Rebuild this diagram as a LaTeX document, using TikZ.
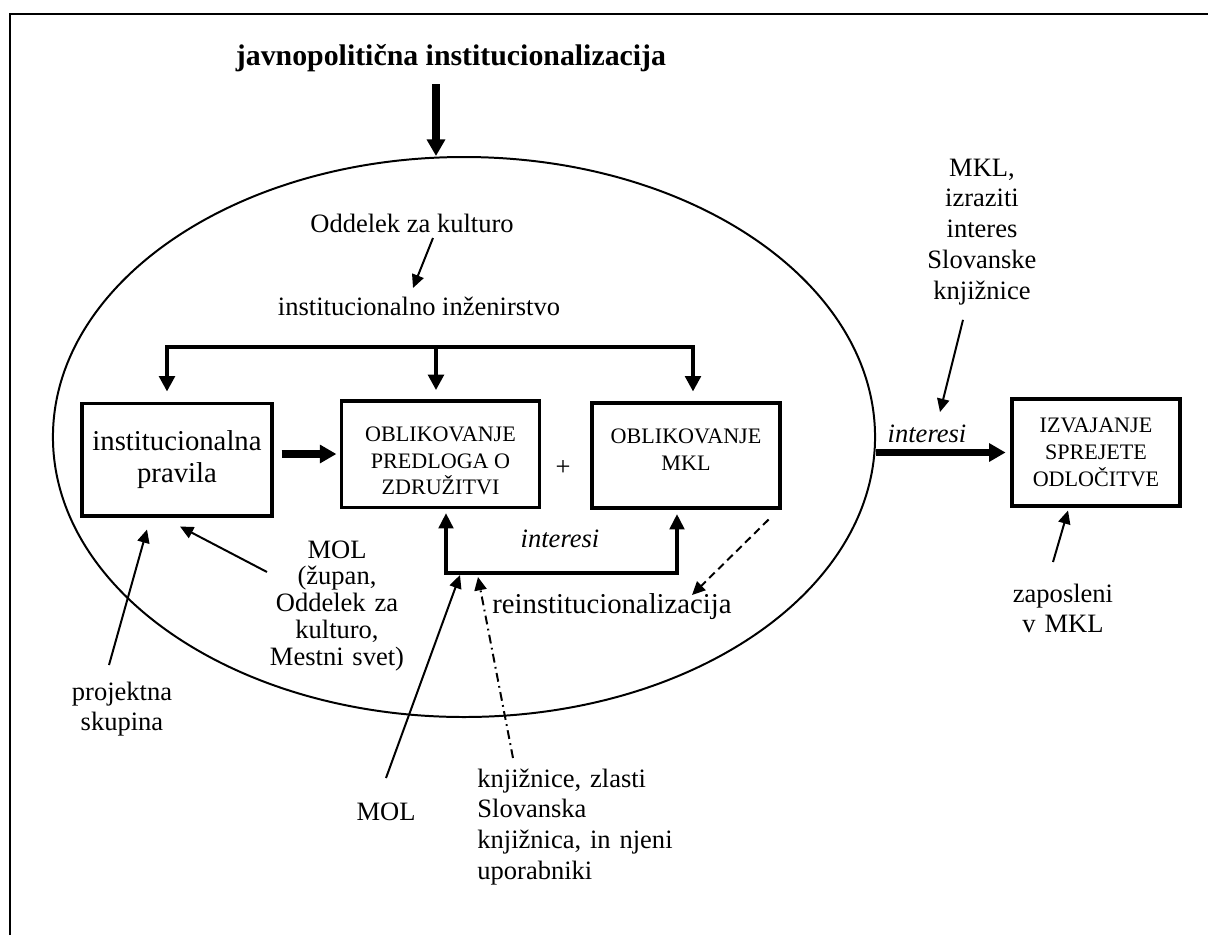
\documentclass[tikz,border=0pt]{standalone}
\usepackage{fontspec}
\setmainfont{Liberation Serif}
\usetikzlibrary{arrows.meta}
\usetikzlibrary{shapes.geometric}

\begin{document}
\begin{tikzpicture}[x=0.4525pt, y=-0.4525pt,
    txt/.style={inner sep=0pt, anchor=base, font=\fontsize{12}{14}\selectfont},
    box/.style={draw, line width=1.4pt, inner sep=0pt, align=center},
    thick line/.style={line width=2.2pt},
    mainarr/.style={line width=3.2pt, -{Triangle[length=7.5pt,width=8pt]}},
    thinarr/.style={line width=0.9pt, -{Triangle[length=6pt,width=5.5pt]}}]
    \useasboundingbox (0,0) rectangle (1208,935);
    \draw[line width=1.2pt] (10,935) -- (10,14) -- (1208,14);

    \node[txt, font=\bfseries\fontsize{13.5}{16}\selectfont] (naslov) at (451,65) {javnopolitična institucionalizacija};
    \node[draw, ellipse, line width=0.9pt, inner sep=0pt, minimum width=372pt, minimum height=253.4pt] (oval) at (464,437) {};
    \coordinate (vrh) at (436,84);
    \draw[mainarr] (vrh) -- (vrh |- oval.north);

    \node[txt] (odd) at (412,232) {Oddelek za kulturo};
    \node[txt] (inz) at (419,315) {institucionalno inženirstvo};
    \draw[thinarr] ([shift={(21,6)}]odd.base) -- ([shift={(-6,-27)}]inz.base);

    \node[box, minimum width=86pt, minimum height=51.1pt, font=\fontsize{13}{14.5}\selectfont] (pravila) at (177,459.5) {institucionalna\\pravila};
    \node[box, minimum width=90pt, minimum height=48pt, font=\fontsize{10}{12}\selectfont] (predlog) at (440.5,454) {\rule{0pt}{13.2pt}OBLIKOVANJE\\PREDLOGA O\\ZDRUŽITVI};
    \node[txt, anchor=center] (plus) at (563,468) {+};
    \node[box, minimum width=85.1pt, minimum height=47.5pt, font=\fontsize{10}{12}\selectfont] (mkl) at (686,455.5) {OBLIKOVANJE\\MKL\rule[-5.4pt]{0pt}{5.4pt}};
    \draw[mainarr, shorten <=3.6pt, shorten >=1.4pt] (pravila.east |- predlog.west) -- (predlog.west);

    % institucionalno inzenirstvo
    \coordinate (bL) at (167,347);
    \coordinate (bM) at (436,347);
    \coordinate (bR) at (693,347);
    \draw[thick line, {Triangle[length=7pt,width=7pt]}-{Triangle[length=7pt,width=7pt]}, shorten <=4.5pt, shorten >=4.5pt]
        (bL |- pravila.north) -- (bL) -- (bR) -- (bR |- mkl.north);
    \draw[thick line, -{Triangle[length=7pt,width=7pt]}, shorten >=4.2pt] (bM) -- (bM |- predlog.north);

    % interesi
    \coordinate (iL) at (446,573);
    \coordinate (iR) at (677,573);
    \draw[thick line, {Triangle[length=7pt,width=6.5pt]}-{Triangle[length=7pt,width=6.5pt]}, shorten <=2pt, shorten >=2pt]
        (iL |- predlog.south) -- (iL) -- (iR) -- (iR |- mkl.south);
    \node[txt, font=\itshape\fontsize{12}{14}\selectfont] (intm) at (560,547) {interesi};
    \node[txt, font=\fontsize{13}{15}\selectfont] (reinst) at (612,613) {reinstitucionalizacija};
    \draw[thinarr, dash pattern=on 3.5pt off 2.2pt] ([shift={(-13,10)}]mkl.south east) -- ([shift={(80,-18)}]reinst.base);

    \node[txt, text width=70pt, align=center, font=\fontsize{12}{12.2}\selectfont] (molpar) at (337,558) {MOL\\(župan,\\Oddelek za\\kulturo,\\Mestni svet)};
    \draw[thinarr] ([shift={(-70,14)}]molpar.base) -- ([shift={(3,9)}]pravila.south);
    \node[txt, text width=50pt, align=center] (proj) at (122,700) {projektna\\skupina};
    \draw[thinarr] ([shift={(-13,-35)}]proj.base) -- ([shift={(-30,12)}]pravila.south);

    \node[txt] (mol) at (386,820) {MOL};
    \draw[thinarr] ([shift={(0,-42)}]mol.base) -- ([shift={(14,2)}]iL);
    \node[txt, anchor=base west, text width=90pt, align=left] (knjiz) at (477,787) {knjižnice, zlasti\\Slovanska\\knjižnica, in njeni\\uporabniki};
    \draw[thinarr, dash pattern=on 4pt off 2pt on 0.8pt off 2pt] ([shift={(36,-29)}]knjiz.base west) -- ([shift={(32,4)}]iL);

    % desno
    \node[box, minimum width=76pt, minimum height=48.4pt, font=\fontsize{10}{12.2}\selectfont] (izvajanje) at (1096,452.5) {IZVAJANJE\\SPREJETE\\ODLOČITVE};
    \draw[mainarr, shorten >=2.2pt] (oval.east |- izvajanje.west) -- (izvajanje.west);
    \node[txt, font=\itshape\fontsize{12}{14}\selectfont] (intr) at (927,442) {interesi};
    \node[txt, text width=60pt, align=center] (mklint) at (982,176) {MKL,\\izraziti\\interes\\Slovanske\\knjižnice};
    \draw[thinarr] ([shift={(-19,14)}]mklint.south) -- ([shift={(13,-30)}]intr.base);
    \node[txt, text width=50pt, align=center] (zap) at (1063,602) {zaposleni\\v MKL};
    \draw[thinarr] ([shift={(-10,-40)}]zap.base) -- ([shift={(-28,3)}]izvajanje.south);
\end{tikzpicture}
\end{document}
